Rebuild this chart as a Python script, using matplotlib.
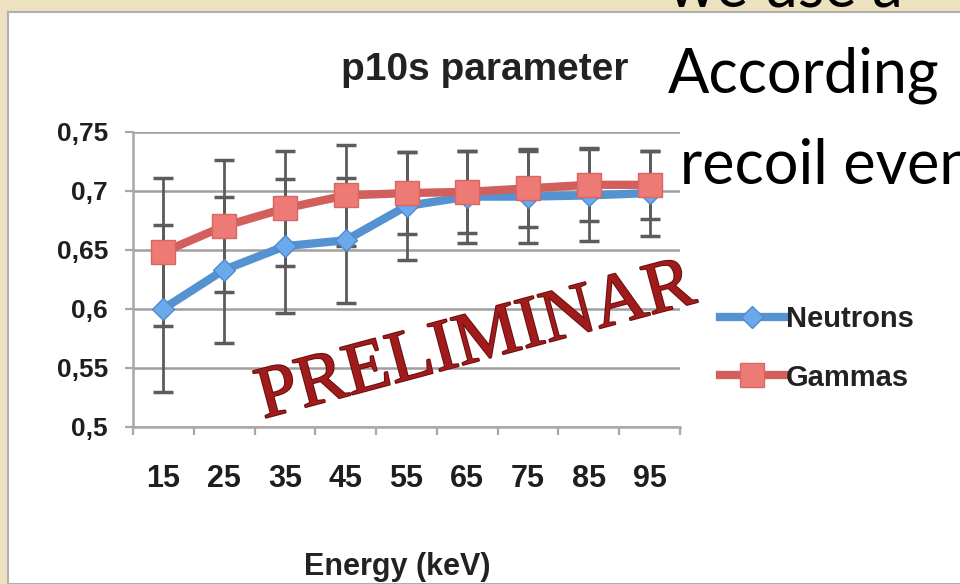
import numpy as np
import matplotlib
matplotlib.use('Agg')
import matplotlib.pyplot as plt
from matplotlib.patches import Rectangle
import matplotlib.patheffects as pe

# Valores (p10s parameter)
energias = ['15', '25', '35', '45', '55', '65', '75', '85', '95']
neutrons = [0.600, 0.633, 0.653, 0.658, 0.687, 0.695, 0.695, 0.696, 0.698]
neutrons_err = [0.071, 0.062, 0.057, 0.053, 0.046, 0.039, 0.039, 0.039, 0.036]
gammas = [0.648, 0.670, 0.685, 0.696, 0.698, 0.699, 0.702, 0.705, 0.705]
gammas_err = [0.063, 0.056, 0.049, 0.043, 0.035, 0.035, 0.033, 0.031, 0.029]
y_ticks = [0.5, 0.55, 0.6, 0.65, 0.7, 0.75]
y_labels = ['0,5', '0,55', '0,6', '0,65', '0,7', '0,75']

plt.rcParams['font.family'] = ['Liberation Sans', 'DejaVu Sans']

W, H = 960, 584
fig = plt.figure(figsize=(9.6, 5.84), dpi=100, facecolor='#ECE2BF')

# caixa branca do grafico sobre o slide
fig.patches.append(Rectangle((8 / W, 0), 1, 1 - 12 / H, transform=fig.transFigure,
                             facecolor='white', edgecolor='#B0B0B0', lw=1.5, zorder=-1))

ax = fig.add_axes([133 / W, 1 - 426.7 / H, 547 / W, 295 / H])
ax.set_facecolor('none')
x = np.arange(len(energias))

# barras de erro
for vals, errs in [(neutrons, neutrons_err), (gammas, gammas_err)]:
    eb = ax.errorbar(x, vals, yerr=errs, fmt='none', ecolor='#5c5c5c', elinewidth=2,
                     capsize=7, capthick=2.5, zorder=2)
    for cap in eb[1]:
        cap.set_color('#111111')

ax.plot(x, neutrons, color='#5592D2', lw=6, marker='D', ms=11,
        mfc='#6AAAEC', mec='#4E8ACB', mew=1, zorder=3, label='Neutrons')
ax.plot(x, gammas, color='#D25F5C', lw=6, marker='s', ms=17,
        mfc='#EE7A76', mec='#D86662', mew=1, zorder=4, label='Gammas')

ax.set_xlim(-0.5, len(energias) - 0.5)
ax.set_ylim(0.5, 0.75)
ax.set_yticks(y_ticks)
ax.set_yticklabels(y_labels, fontweight='bold')
ax.set_xticks(x)
ax.set_xticklabels(energias, fontweight='bold')
ax.set_xticks(np.arange(len(energias) + 1) - 0.5, minor=True)

ax.grid(axis='y', color='#A0A0A0', lw=1.8, zorder=1)
ax.set_axisbelow(True)
for s in ['top', 'right']:
    ax.spines[s].set_visible(False)
for s in ['left', 'bottom']:
    ax.spines[s].set_color('#A8A8A8')
    ax.spines[s].set_linewidth(1.8)

ax.tick_params(axis='y', length=6, width=1.6, color='#A8A8A8', pad=12,
               labelsize=19, labelcolor='#1e1e1e')
ax.tick_params(axis='x', which='major', length=0, pad=27, labelsize=22,
               labelcolor='#1e1e1e')
ax.tick_params(axis='x', which='minor', length=6, width=1.6, color='#A8A8A8')

fig.text(485 / W, 1 - 70 / H, 'p10s parameter', ha='center', va='center',
         fontsize=28, fontweight='bold', color='#222222')
fig.text(397 / W, 1 - 567 / H, 'Energy (keV)', ha='center', va='center',
         fontsize=22, fontweight='bold', color='#222222')

leg = ax.legend(loc='upper left', bbox_to_anchor=(720 / W, 1 - 305 / H),
                bbox_transform=fig.transFigure, frameon=False, fontsize=21,
                handlelength=2.2, handletextpad=0.05, labelspacing=1.05,
                borderpad=0, borderaxespad=0)
for t in leg.get_texts():
    t.set_fontweight('bold')
    t.set_color('#222222')

# carimbo
fig.text(476 / W, 1 - 343 / H, 'PRELIMINAR', ha='center', va='center',
         rotation=15, rotation_mode='anchor', fontsize=53,
         family=['Liberation Serif', 'DejaVu Serif'], color='#A01B1B',
         path_effects=[pe.withStroke(linewidth=1.5, foreground='#6E0E0E')])

# texto do slide ao fundo
fig.text(668 / W, 1 - 92 / H, 'According', ha='left', va='baseline',
         fontsize=44, family=['Lato', 'DejaVu Sans'], color='black')
fig.text(680 / W, 1 - 184 / H, 'recoil events', ha='left', va='baseline',
         fontsize=44, family=['Lato', 'DejaVu Sans'], color='black')
fig.text(668 / W, 1 - 7 / H, 'we use a', ha='left', va='baseline',
         fontsize=44, family=['Lato', 'DejaVu Sans'], color='black', zorder=-2)

fig.savefig('out.png', dpi=100, facecolor=fig.get_facecolor())
